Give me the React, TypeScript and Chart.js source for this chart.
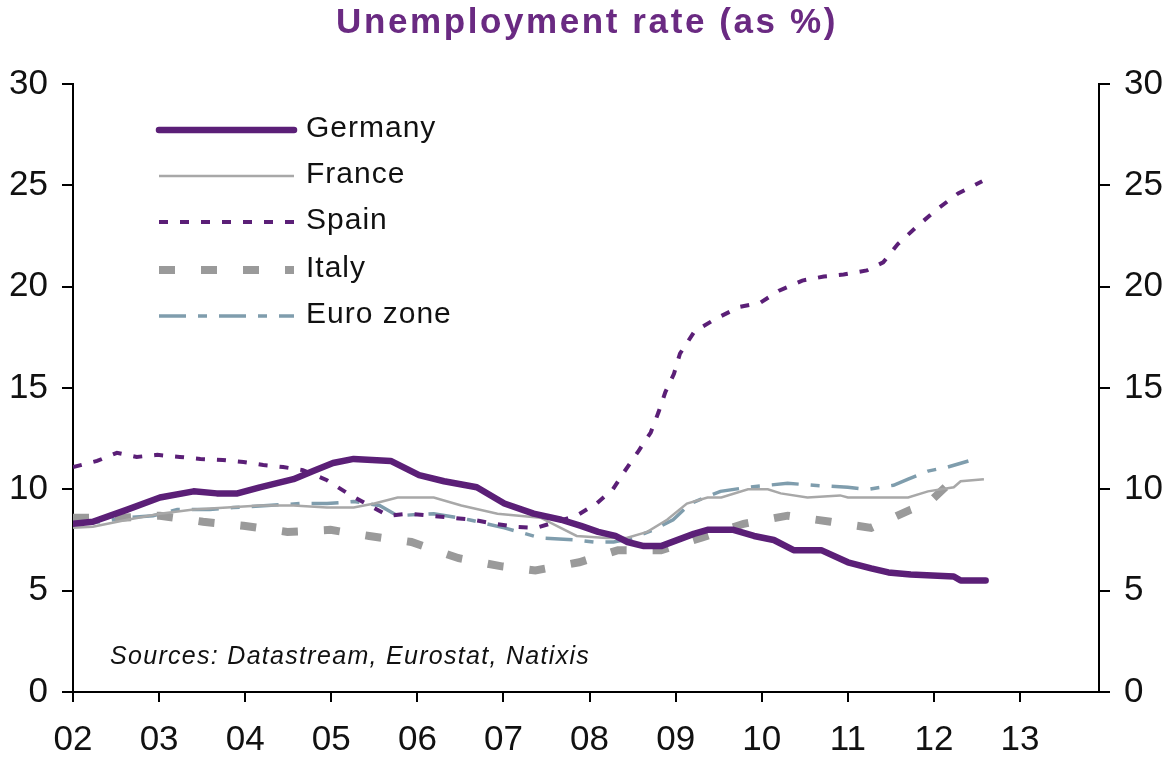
import React, { useEffect, useRef } from "react";
import { Chart, registerables } from "chart.js";

Chart.register(...registerables);

// ---------- text ----------
const TITLE = "Unemployment rate (as %)";
const SOURCE = "Sources: Datastream, Eurostat, Natixis";
const SERIES_NAMES = ["Germany", "France", "Spain", "Italy", "Euro zone"];

// ---------- axes ----------
const X_FIRST_YEAR = 2002;
const X_LAST = 2002 + 143 / 12; // Dec 2013
const YEAR_LABELS = ["02", "03", "04", "05", "06", "07", "08", "09", "10", "11", "12", "13"];
const Y_MIN = 0;
const Y_MAX = 30;
const Y_STEP = 5;

// ---------- data (time in decimal years, rate in %) ----------
const germanyT = [2002.0, 2002.23, 2002.63, 2003.01, 2003.4, 2003.67, 2003.91, 2004.17, 2004.56, 2004.79, 2005.02, 2005.26, 2005.69, 2006.02, 2006.31, 2006.69, 2007.01, 2007.35, 2007.67, 2007.9, 2008.1, 2008.3, 2008.44, 2008.63, 2008.83, 2009.21, 2009.37, 2009.67, 2009.91, 2010.14, 2010.37, 2010.69, 2011.0, 2011.27, 2011.47, 2011.73, 2012.23, 2012.31, 2012.6];
const germanyV = [8.3, 8.4, 9.0, 9.6, 9.9, 9.8, 9.8, 10.1, 10.5, 10.9, 11.3, 11.5, 11.4, 10.7, 10.4, 10.1, 9.3, 8.8, 8.5, 8.2, 7.9, 7.7, 7.4, 7.2, 7.2, 7.8, 8.0, 8.0, 7.7, 7.5, 7.0, 7.0, 6.4, 6.1, 5.9, 5.8, 5.7, 5.5, 5.5];

const franceT = [2002.0, 2002.23, 2002.63, 2003.01, 2003.4, 2003.79, 2004.17, 2004.56, 2004.95, 2005.26, 2005.5, 2005.77, 2006.19, 2006.51, 2006.93, 2007.43, 2007.85, 2008.2, 2008.43, 2008.67, 2008.9, 2009.13, 2009.37, 2009.53, 2009.84, 2010.07, 2010.22, 2010.53, 2010.91, 2011.0, 2011.7, 2011.93, 2012.23, 2012.31, 2012.58];
const franceV = [8.1, 8.15, 8.5, 8.8, 9.0, 9.1, 9.2, 9.2, 9.1, 9.1, 9.3, 9.6, 9.6, 9.2, 8.8, 8.6, 7.7, 7.6, 7.6, 7.9, 8.5, 9.3, 9.6, 9.6, 10.0, 10.0, 9.8, 9.6, 9.7, 9.6, 9.6, 9.9, 10.1, 10.4, 10.5];

const spainT = [2002.0, 2002.28, 2002.51, 2002.74, 2002.98, 2003.24, 2003.48, 2003.74, 2003.98, 2004.21, 2004.44, 2004.67, 2004.95, 2005.19, 2005.4, 2005.66, 2005.9, 2006.4, 2006.64, 2006.9, 2007.14, 2007.38, 2007.85, 2008.08, 2008.27, 2008.4, 2008.57, 2008.71, 2008.8, 2008.88, 2008.98, 2009.05, 2009.22, 2009.48, 2009.74, 2009.98, 2010.2, 2010.47, 2010.72, 2010.95, 2011.22, 2011.41, 2011.58, 2011.81, 2012.03, 2012.28, 2012.56];
const spainV = [11.1, 11.4, 11.8, 11.6, 11.7, 11.6, 11.5, 11.45, 11.35, 11.2, 11.1, 10.95, 10.45, 9.8, 9.3, 8.7, 8.8, 8.6, 8.5, 8.3, 8.15, 8.1, 8.7, 9.3, 10.0, 10.85, 11.9, 12.8, 13.8, 14.8, 15.7, 16.7, 17.8, 18.45, 19.0, 19.2, 19.8, 20.3, 20.5, 20.6, 20.8, 21.2, 22.1, 23.0, 23.8, 24.6, 25.2];

const italyT = [2002.0, 2002.55, 2003.01, 2003.51, 2003.98, 2004.49, 2004.99, 2005.44, 2005.93, 2006.48, 2006.98, 2007.37, 2007.88, 2008.33, 2008.83, 2009.29, 2009.79, 2010.3, 2010.8, 2011.27, 2011.73, 2011.93, 2012.23, 2012.31];
const italyV = [8.6, 8.6, 8.7, 8.4, 8.2, 7.9, 8.0, 7.7, 7.4, 6.6, 6.2, 6.0, 6.4, 7.0, 7.0, 7.6, 8.3, 8.7, 8.4, 8.1, 9.0, 9.3, 10.5, 10.6];

const euroT = [2002.0, 2002.23, 2002.63, 2002.93, 2003.21, 2003.59, 2003.86, 2004.26, 2004.64, 2004.95, 2005.26, 2005.56, 2005.77, 2006.19, 2006.6, 2007.01, 2007.43, 2007.85, 2008.05, 2008.28, 2008.51, 2008.74, 2008.97, 2009.17, 2009.52, 2009.84, 2010.3, 2010.6, 2011.0, 2011.23, 2011.53, 2011.7, 2011.93, 2012.16, 2012.4];
const euroV = [8.3, 8.35, 8.6, 8.7, 9.0, 9.0, 9.1, 9.2, 9.3, 9.3, 9.4, 9.2, 8.7, 8.8, 8.5, 8.1, 7.6, 7.5, 7.4, 7.4, 7.6, 8.0, 8.5, 9.3, 9.9, 10.1, 10.3, 10.2, 10.1, 10.0, 10.2, 10.5, 10.9, 11.1, 11.4];

const toPoints = (t: number[], v: number[]) => t.map((x, i) => ({ x, y: v[i] }));

const FONT = '"Liberation Sans", Arial, sans-serif';
const PURPLE = "#5b1f77";
const TITLE_COLOR = "#6a2a82";
const TEXT = "#111111";

const overlayPlugin = {
  id: "overlay",
  afterDraw(chart: any) {
    const ctx = chart.ctx as CanvasRenderingContext2D;
    ctx.save();
    // title
    ctx.font = `bold 35px ${FONT}`;
    (ctx as any).letterSpacing = "2.6px";
    ctx.fillStyle = TITLE_COLOR;
    ctx.textAlign = "left";
    ctx.textBaseline = "alphabetic";
    const tw = ctx.measureText(TITLE).width;
    ctx.fillText(TITLE, 587 - tw / 2, 33);

    // source
    ctx.font = `italic 25px ${FONT}`;
    (ctx as any).letterSpacing = "1.3px";
    ctx.fillStyle = TEXT;
    ctx.fillText(SOURCE, 110, 664);

    // legend
    const x0 = 159;
    const x1 = 294;
    const rows = [130, 176, 222, 270, 316];
    chart.data.datasets.forEach((ds: any, i: number) => {
      const y = rows[i];
      ctx.save();
      ctx.strokeStyle = ds.borderColor;
      ctx.lineWidth = ds.borderWidth;
      ctx.setLineDash(ds.borderDash || []);
      ctx.lineCap = ds.borderCapStyle || "butt";
      ctx.beginPath();
      ctx.moveTo(x0, y);
      ctx.lineTo(x1, y);
      ctx.stroke();
      ctx.restore();
      ctx.font = `30px ${FONT}`;
      (ctx as any).letterSpacing = "1px";
      ctx.fillStyle = TEXT;
      ctx.fillText(ds.label, 306, y + 7);
    });
    ctx.restore();
  },
};

export default function App() {
  const ref = useRef<HTMLCanvasElement | null>(null);

  useEffect(() => {
    if (!ref.current) return;
    const chart = new Chart(ref.current, {
      type: "line",
      data: {
        datasets: [
          {
            label: SERIES_NAMES[0],
            data: toPoints(germanyT, germanyV),
            borderColor: PURPLE,
            borderWidth: 6.5,
            borderCapStyle: "round",
            borderJoinStyle: "round",
            yAxisID: "y",
          },
          {
            label: SERIES_NAMES[1],
            data: toPoints(franceT, franceV),
            borderColor: "#a8a8a8",
            borderWidth: 2.5,
            yAxisID: "y",
          },
          {
            label: SERIES_NAMES[2],
            data: toPoints(spainT, spainV),
            borderColor: PURPLE,
            borderWidth: 4,
            borderDash: [9, 12],
            yAxisID: "y",
          },
          {
            label: SERIES_NAMES[3],
            data: toPoints(italyT, italyV),
            borderColor: "#9a9a9a",
            borderWidth: 8,
            borderDash: [16, 26],
            yAxisID: "y",
          },
          {
            label: SERIES_NAMES[4],
            data: toPoints(euroT, euroV),
            borderColor: "#7f9dad",
            borderWidth: 3.5,
            borderDash: [27, 12, 9, 12],
            yAxisID: "y",
          },
        ] as any,
      },
      options: {
        animation: false,
        responsive: false,
        maintainAspectRatio: false,
        layout: { padding: { top: 84, left: 0, right: 0, bottom: 0 } },
        elements: { point: { radius: 0 }, line: { tension: 0 } },
        plugins: {
          legend: { display: false },
          title: { display: false },
          tooltip: { enabled: false },
        },
        scales: {
          x: {
            type: "linear",
            min: X_FIRST_YEAR,
            max: X_LAST,
            afterBuildTicks: (s: any) => {
              s.ticks = YEAR_LABELS.map((_, i) => ({ value: X_FIRST_YEAR + i }));
            },
            afterFit: (s: any) => {
              s.height = 68;
            },
            ticks: {
              stepSize: 1,
              autoSkip: false,
              maxRotation: 0,
              padding: 17,
              color: TEXT,
              font: { family: FONT, size: 35 },
              callback: (v: any) => YEAR_LABELS[Math.round(Number(v)) - X_FIRST_YEAR] ?? "",
            },
            grid: { drawOnChartArea: false, drawTicks: true, tickLength: 10, color: "#000", lineWidth: 2 },
            border: { display: true, color: "#000", width: 2 },
          },
          y: {
            position: "left",
            min: Y_MIN,
            max: Y_MAX,
            afterFit: (s: any) => {
              s.width = 73;
            },
            ticks: { stepSize: Y_STEP, padding: 14, color: TEXT, font: { family: FONT, size: 35 } },
            grid: { drawOnChartArea: false, drawTicks: true, tickLength: 11, color: "#000", lineWidth: 2 },
            border: { display: true, color: "#000", width: 2 },
          },
          y2: {
            position: "right",
            min: Y_MIN,
            max: Y_MAX,
            afterFit: (s: any) => {
              s.width = 72;
            },
            ticks: { stepSize: Y_STEP, padding: 14, color: TEXT, font: { family: FONT, size: 35 } },
            grid: { drawOnChartArea: false, drawTicks: true, tickLength: 11, color: "#000", lineWidth: 2 },
            border: { display: true, color: "#000", width: 2 },
          },
        },
      } as any,
      plugins: [overlayPlugin],
    });
    return () => chart.destroy();
  }, []);

  return (
    <div style={{ position: "absolute", left: 0, top: 0, width: 1171, height: 760, background: "#fff" }}>
      <canvas ref={ref} width={1171} height={760} style={{ display: "block" }} />
    </div>
  );
}
